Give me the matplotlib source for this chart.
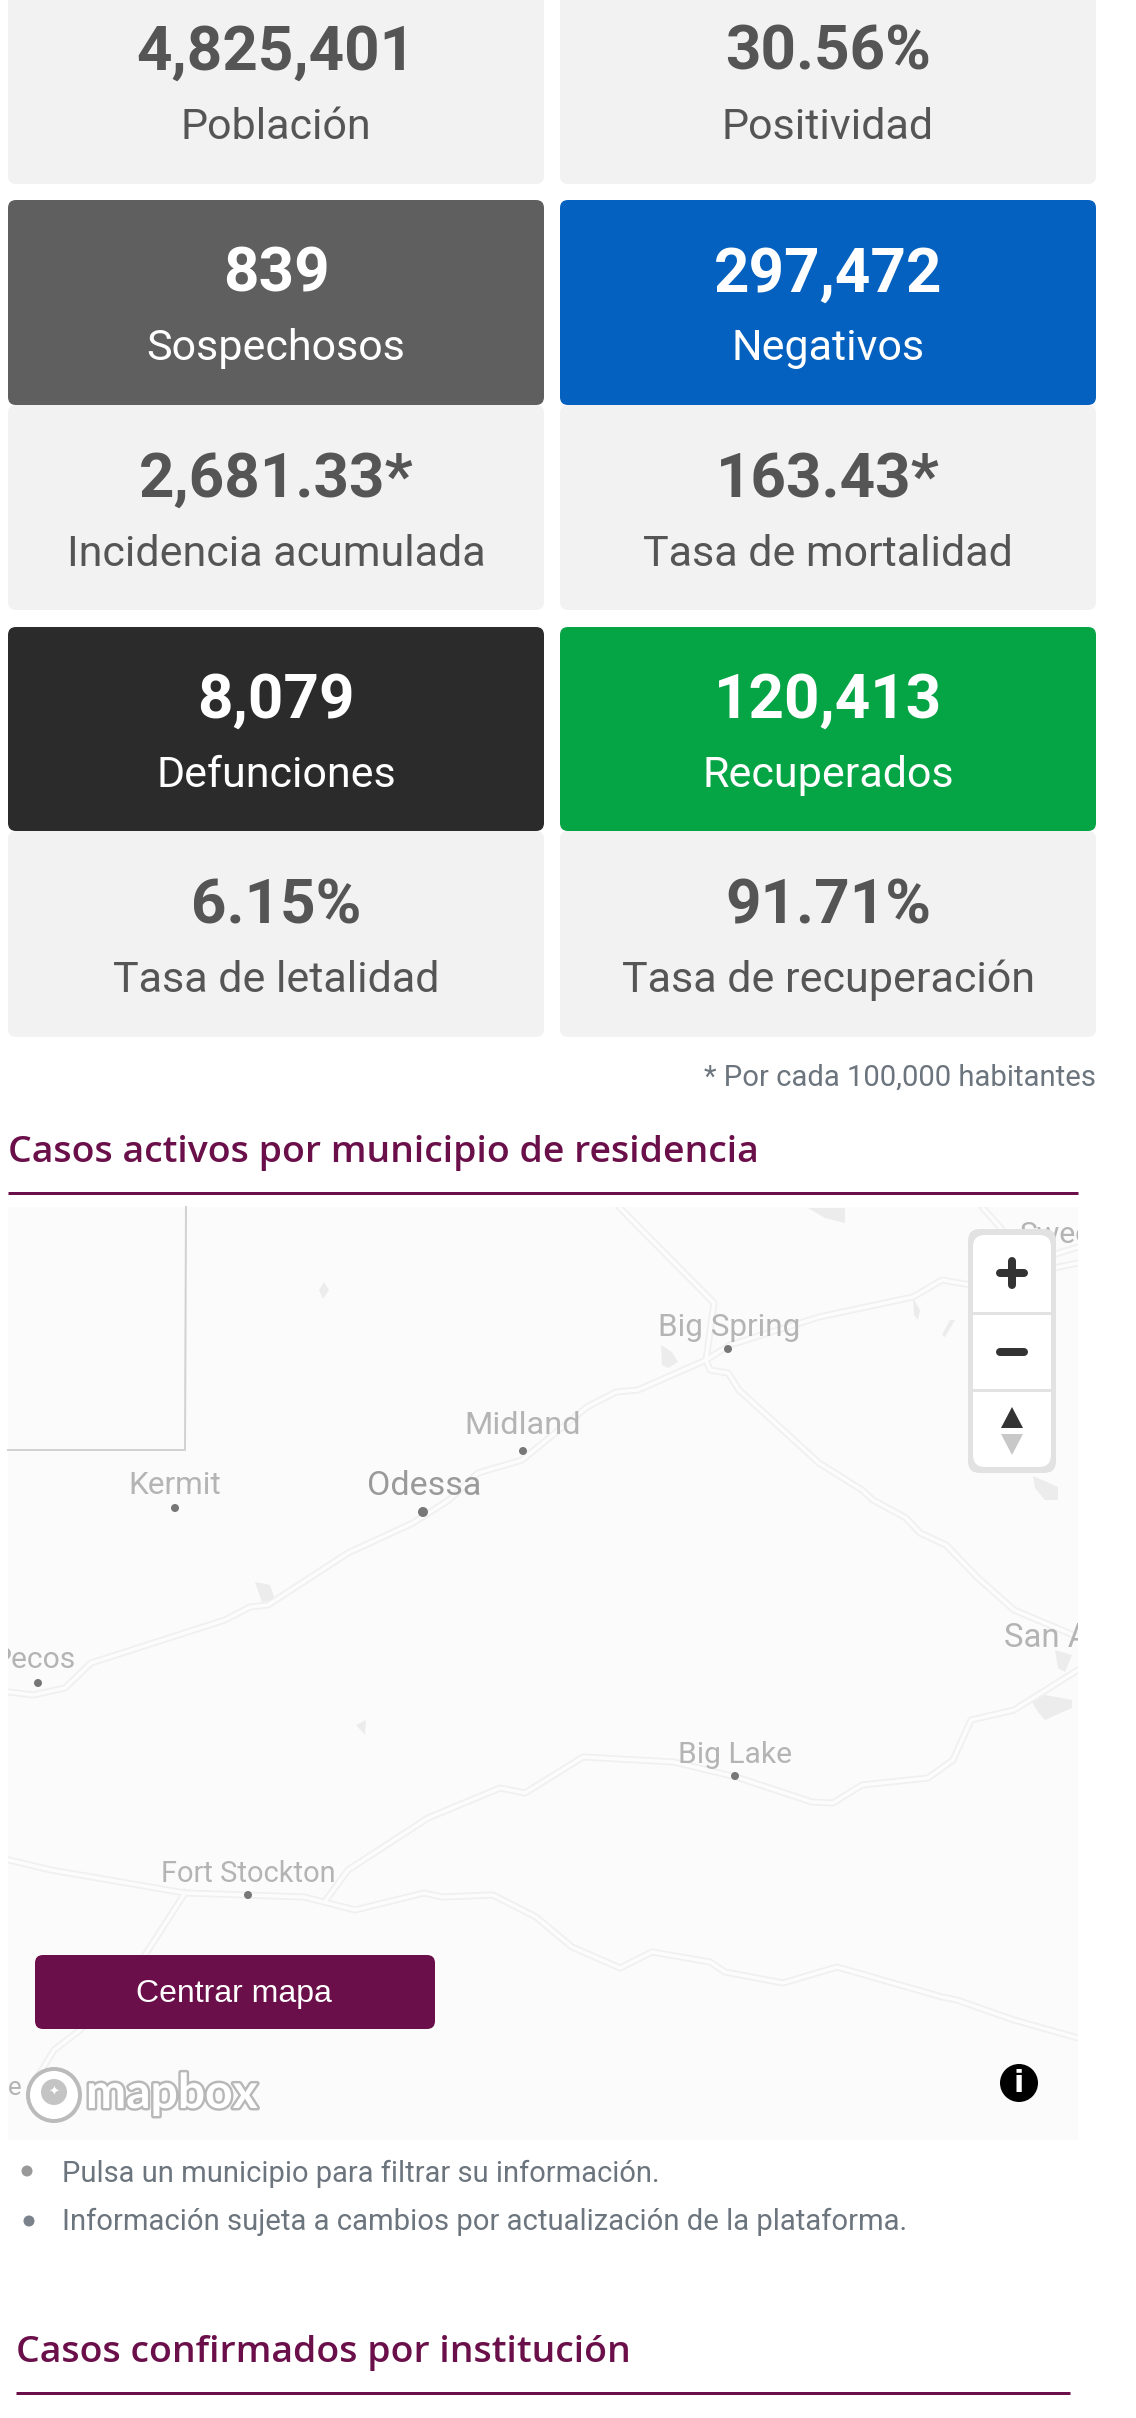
import matplotlib
matplotlib.use("Agg")
import matplotlib.pyplot as plt
from matplotlib.patches import Circle, FancyBboxPatch, Polygon, Rectangle
import matplotlib.patheffects as pe

# DATA.
card_left = [("4,825,401", "Población"), ("839", "Sospechosos"), ("2,681.33*", "Incidencia acumulada"),
             ("8,079", "Defunciones"), ("6.15%", "Tasa de letalidad")]
card_right = [("30.56%", "Positividad"), ("297,472", "Negativos"), ("163.43*", "Tasa de mortalidad"),
              ("120,413", "Recuperados"), ("91.71%", "Tasa de recuperación")]
card_top = [-20, 200, 405, 627, 831]
card_bottom = [184, 405, 610, 831, 1037]
num_base = [70, 292, 497, 718, 923]
lab_base = [139, 360, 566, 787, 992]
left_colors = ["#f2f2f2", "#5f5f5f", "#f2f2f2", "#2b2b2b", "#f2f2f2"]
right_colors = ["#f2f2f2", "#0561bf", "#f2f2f2", "#05a545", "#f2f2f2"]

towns = ["Big Spring", "Midland", "Kermit", "Odessa", "Big Lake", "Fort Stockton"]
town_x = [729, 523, 175, 424, 735, 248]
town_y = [1328, 1426, 1486, 1486, 1755, 1874]
town_size = [31.5, 32.5, 31.5, 34, 30, 29]
dot_x = [728, 523, 175, 423, 735, 248]
dot_y = [1349, 1451, 1508, 1512, 1776, 1895]

roads = [
    [(9, 1692), (33, 1695), (65, 1688), (91, 1663), (225, 1620), (250, 1607), (268, 1605), (268, 1605),
     (348, 1553), (413, 1523), (449, 1500), (478, 1473), (522, 1460), (587, 1407), (616, 1392), (638, 1390),
     (706, 1360), (730, 1345), (819, 1317), (913, 1297), (942, 1280), (971, 1285), (1078, 1263)],
    [(620, 1208), (714, 1303), (706, 1360), (710, 1370), (728, 1373), (739, 1390), (819, 1463), (862, 1490),
     (873, 1500), (906, 1518), (920, 1533), (946, 1545), (978, 1578), (1014, 1610), (1078, 1637)],
    [(1078, 1670), (1014, 1710), (971, 1720), (953, 1760), (928, 1778), (862, 1785), (833, 1803), (812, 1802),
     (736, 1777), (674, 1762), (583, 1757), (525, 1793), (500, 1788), (428, 1818), (348, 1870), (326, 1900)],
    [(9, 1860), (51, 1870), (185, 1893), (246, 1895), (304, 1897), (355, 1910), (424, 1893), (442, 1897),
     (493, 1895), (536, 1917), (572, 1947), (620, 1968), (652, 1952), (710, 1962), (725, 1972), (783, 1983),
     (837, 1967), (942, 1997), (957, 2000), (1014, 2020), (1078, 2038)],
    [(185, 1893), (145, 1955), (80, 2030), (54, 2050), (40, 2073)],
    [(983, 1208), (1005, 1233), (1030, 1262), (1078, 1247)],
]
lakes = [
    [(808, 1208), (845, 1208), (845, 1223), (825, 1218)],
    [(324, 1282), (329, 1290), (323, 1299), (319, 1290)],
    [(661, 1345), (672, 1352), (678, 1362), (668, 1368), (662, 1365)],
    [(913, 1298), (920, 1310), (918, 1320), (914, 1315)],
    [(950, 1320), (955, 1320), (945, 1337), (942, 1335)],
    [(1033, 1476), (1058, 1487), (1058, 1500), (1045, 1500), (1035, 1488)],
    [(255, 1582), (270, 1585), (275, 1600), (262, 1602)],
    [(356, 1725), (366, 1720), (365, 1735)],
    [(1055, 1650), (1072, 1655), (1065, 1672), (1058, 1668)],
    [(1032, 1702), (1045, 1695), (1072, 1700), (1072, 1708), (1045, 1720), (1038, 1712)],
]

# Figure in reference pixels.
fig = plt.figure(figsize=(11.36, 24.18), dpi=100)
ax = fig.add_axes([0, 0, 1, 1])
ax.set_xlim(0, 1136)
ax.set_ylim(2418, 0)
ax.axis("off")
PX = 0.72
PURPLE = "#6a0f49"


def card(x0, x1, y0, y1, color, z=1):
    ax.add_patch(FancyBboxPatch((x0 + 8, y0 + 8), x1 - x0 - 16, y1 - y0 - 16, boxstyle="round,pad=8,rounding_size=8",
                                fc=color, ec="none", zorder=z))


# CARDS.
for col, (items, colors, x0, x1) in enumerate([(card_left, left_colors, 8, 544), (card_right, right_colors, 560, 1096)]):
    for i, (num, lab) in enumerate(items):
        dark = colors[i] != "#f2f2f2"
        card(x0, x1, card_top[i], card_bottom[i], colors[i], z=2 if dark else 1)
        c = "white" if dark else "#555555"
        xc = (x0 + x1) / 2
        ax.text(xc, num_base[i], num, ha="center", va="baseline", family="Roboto", weight="bold",
                size=62 * PX, color=c, zorder=3)
        ax.text(xc, lab_base[i], lab, ha="center", va="baseline", family="Roboto", size=43 * PX,
                color=c, zorder=3)

ax.text(1096, 1086, "* Por cada 100,000 habitantes", ha="right", va="baseline", family="Roboto", size=29.2 * PX,
        color="#6c757d")

# HEADINGS.
ax.text(8, 1162, "Casos activos por municipio de residencia", va="baseline", family="Open Sans", weight=600,
        size=37.4 * PX, color=PURPLE)
ax.plot([8, 1078], [1193, 1193], color=PURPLE, lw=3 * PX, solid_capstyle="butt")
ax.text(16, 2362, "Casos confirmados por institución", va="baseline", family="Open Sans", weight=600,
        size=37.4 * PX, color=PURPLE)
ax.plot([16, 1070], [2393, 2393], color=PURPLE, lw=3 * PX, solid_capstyle="butt")

# MAP.
map_bg = Rectangle((8, 1207), 1070, 933, fc="#fbfbfb", ec="none", zorder=1)
ax.add_patch(map_bg)
for pts in lakes:
    ax.add_patch(Polygon(pts, fc="#ececec", ec="none", zorder=2)).set_clip_path(map_bg)
for pts in roads:
    xs, ys = zip(*pts)
    ax.plot(xs, ys, color="#f0f0f0", lw=7 * PX, zorder=2, solid_joinstyle="round")[0].set_clip_path(map_bg)
for pts in roads:
    xs, ys = zip(*pts)
    ax.plot(xs, ys, color="#fcfcfc", lw=3.5 * PX, zorder=2, solid_joinstyle="round")[0].set_clip_path(map_bg)
ax.plot([186, 185, 8], [1207, 1450, 1450], color="#d2d2d2", lw=2 * PX, zorder=2)

for name, x, y, s, dx, dy in zip(towns, town_x, town_y, town_size, dot_x, dot_y):
    big = name == "Odessa"
    ax.text(x, y, name, ha="center", va="center", family="Roboto", size=s * PX,
            color="#9a9a9a" if big else "#b4b4b4", zorder=3)
    ax.add_patch(Circle((dx, dy), 5 if big else 4, fc="#777777", ec="none", zorder=3))

ax.text(76, 1660, "Pecos", ha="right", va="center", family="Roboto", size=30 * PX, color="#b4b4b4",
        zorder=3, clip_on=True).set_clip_path(map_bg)
ax.add_patch(Circle((38, 1683), 4, fc="#777777", ec="none", zorder=3))
ax.text(1004, 1638, "San Angelo", ha="left", va="center", family="Roboto", size=33 * PX, color="#b4b4b4",
        zorder=3, clip_on=True).set_clip_path(map_bg)
ax.text(1020, 1235, "Sweetwater", ha="left", va="center", family="Roboto", size=30 * PX, color="#b4b4b4",
        zorder=3, clip_on=True).set_clip_path(map_bg)
ax.text(8, 2088, "e", ha="left", va="center", family="Roboto", size=26 * PX, color="#b4b4b4", zorder=3)

# Zoom control.
ax.add_patch(FancyBboxPatch((976, 1237), 72, 228, boxstyle="round,pad=8,rounding_size=12", fc="#e2e2e2", ec="none", zorder=4))
ax.add_patch(FancyBboxPatch((983, 1245), 58, 212, boxstyle="round,pad=10,rounding_size=12", fc="white", ec="none", zorder=5))
ax.plot([973, 1051], [1313, 1313], color="#e2e2e2", lw=3 * PX, zorder=6)
ax.plot([973, 1051], [1390, 1390], color="#e2e2e2", lw=3 * PX, zorder=6)
ax.plot([1000, 1024], [1273, 1273], color="#333333", lw=8 * PX, solid_capstyle="round", zorder=6)
ax.plot([1012, 1012], [1261, 1285], color="#333333", lw=8 * PX, solid_capstyle="round", zorder=6)
ax.plot([1000, 1024], [1352, 1352], color="#333333", lw=8 * PX, solid_capstyle="round", zorder=6)
ax.add_patch(Polygon([(1012, 1407), (1001, 1428), (1023, 1428)], fc="#333333", ec="none", zorder=6))
ax.add_patch(Polygon([(1001, 1434), (1023, 1434), (1012, 1455)], fc="#c8c8c8", ec="none", zorder=6))

# Button.
ax.add_patch(FancyBboxPatch((43, 1963), 384, 58, boxstyle="round,pad=8,rounding_size=8", fc=PURPLE, ec="none", zorder=4))
ax.text(234, 1994, "Centrar mapa", ha="center", va="center", family="Liberation Sans", size=32 * PX, color="white", zorder=5)

# Mapbox logo and info icon.
ax.add_patch(Circle((54, 2095), 26, fc="white", ec="#bbbbbb", lw=4 * PX, zorder=4))
ax.add_patch(Circle((54, 2092), 13, fc="#c4c4c4", ec="none", zorder=5))
ax.text(54, 2092, "✦", ha="center", va="center", family="DejaVu Sans", size=13 * PX, color="white", zorder=6)
ax.text(86, 2094, "mapbox", ha="left", va="center", family="Lato", weight="bold", size=48 * PX, color="white",
        zorder=5, path_effects=[pe.withStroke(linewidth=3.5, foreground="#b8b8b8")])
ax.add_patch(Circle((1019, 2083), 19, fc="black", ec="none", zorder=4))
ax.text(1019, 2084, "i", ha="center", va="center", family="DejaVu Sans", weight="bold", size=30 * PX, color="white", zorder=5)

# Notes below the map.
ax.add_patch(Circle((27, 2171), 5.5, fc="#999999", ec="none"))
ax.add_patch(Circle((29, 2221), 5.5, fc="#7a828b", ec="none"))
ax.text(62, 2182, "Pulsa un municipio para filtrar su información.", va="baseline", family="Roboto", size=29.1 * PX, color="#6c757d")
ax.text(62, 2230, "Información sujeta a cambios por actualización de la plataforma.", va="baseline", family="Roboto", size=29.2 * PX, color="#6c757d")

fig.savefig("out.png", dpi=100, facecolor="white")
